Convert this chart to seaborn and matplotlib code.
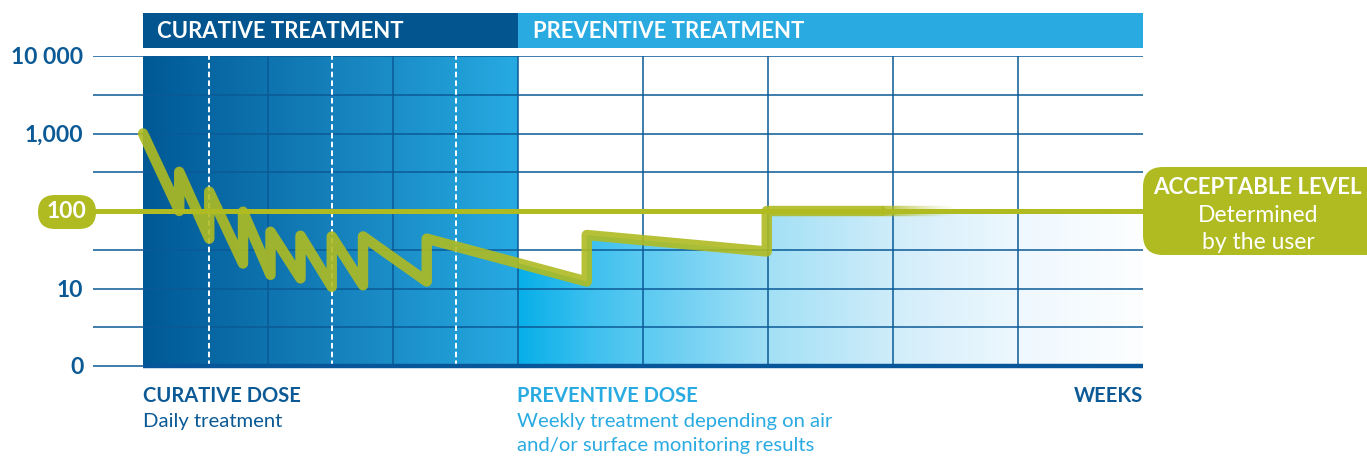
import numpy as np
import matplotlib
matplotlib.use("Agg")
import matplotlib.pyplot as plt
import matplotlib.transforms as mtransforms
from matplotlib.patches import FancyBboxPatch, PathPatch, Rectangle
from matplotlib.path import Path
from matplotlib.colors import LinearSegmentedColormap, to_rgba
from matplotlib.collections import LineCollection
import seaborn as sns

# ---------------- data ----------------
week_x = [0.0, 0.29, 0.29, 0.53, 0.53, 0.80, 0.80, 1.02, 1.02, 1.26, 1.26,
          1.51, 1.51, 1.76, 1.76, 2.27, 2.27, 3.55, 3.55, 4.99, 4.99, 5.9]
level_y = [1000, 100, 320, 44, 178, 21, 98, 15, 54, 13.5, 48,
           10.5, 47, 11, 47, 12.3, 44, 12.3, 49, 30, 100, 100]
fade_end_x = 6.5
acceptable_level = 100
ytick_values = [1, 10, 1000, 10000]
ytick_labels = ["0", "10", "1,000", "10 000"]
treatment_days = [0.53, 1.51, 2.5]
week_lines = [1, 2, 3, 4, 5, 6, 7]
curative_end = 3
n_weeks = 8
header_labels = ["CURATIVE TREATMENT", "PREVENTIVE TREATMENT"]

# ---------------- style ----------------
DARK = "#0b5a96"
BAND_DARK = "#03558f"
LIGHT = "#29abe2"
GREEN = "#afbb21"

sns.set_theme(style="white")
plt.rcParams["font.family"] = ["Lato", "DejaVu Sans"]
plt.rcParams["lines.scale_dashes"] = False

W, H = 1367, 458
fig = plt.figure(figsize=(W / 100, H / 100), dpi=100)
fig.patch.set_facecolor("white")
ax = fig.add_axes([93 / W, 1 - 366 / H, (1143 - 93) / W, (366 - 56) / H])
ax.set_yscale("log")
ax.set_xlim(-0.4, n_weeks)
ax.set_ylim(1, 10000)
ax.set_facecolor("none")
for s in ax.spines.values():
    s.set_visible(False)


def fx(px):
    return px / W


def fy(py):
    return 1 - py / H


# curative background gradient
cur_cmap = LinearSegmentedColormap.from_list("cur", ["#005995", "#1580bb", "#27aae2"])
grad = np.linspace(0, 1, 512)[None, :]
ax.imshow(grad, cmap=cur_cmap, extent=[0, curative_end, 1, 10000], aspect="auto",
          interpolation="bilinear", zorder=0)

# preventive area fill under the curve
lx = np.array(week_x, dtype=float)
ly = np.log10(np.array(level_y, dtype=float))
i = np.searchsorted(lx, curative_end)
y_at = 10 ** np.interp(curative_end, lx[i - 1:i + 1], ly[i - 1:i + 1])
verts = [(curative_end, 1), (curative_end, y_at)]
verts += [(x, y) for x, y in zip(week_x, level_y) if x > curative_end]
verts += [(n_weeks, acceptable_level), (n_weeks, 1), (curative_end, 1)]
clip = PathPatch(Path(verts), transform=ax.transData, facecolor="none", edgecolor="none")
ax.add_patch(clip)
prev_cmap = LinearSegmentedColormap.from_list(
    "prev", [(0, "#08afe9"), (0.12, "#3fc1ef"), (0.4, "#a2e0f6"),
             (0.62, "#d4eefa"), (0.8, "#eef8fe"), (1.0, "#fdfeff")])
im = ax.imshow(grad, cmap=prev_cmap, extent=[curative_end, n_weeks, 1, 10000],
               aspect="auto", interpolation="bilinear", zorder=0.5)
im.set_clip_path(clip)

# grid lines
half_decades = 10 ** (np.arange(1, 9) / 2)
ax.hlines(half_decades, -0.4, n_weeks, colors=DARK, lw=1.1, zorder=2)
ax.vlines(week_lines, 1, 10000, colors=DARK, lw=1.1, zorder=2)
ax.vlines(treatment_days, 1, 10000, colors="white", lw=1.4,
          linestyles=[(0, (4, 2.3))], zorder=2.5)
ax.hlines(1, -0.4, 0, colors=DARK, lw=1.1, zorder=2, clip_on=False)
ax.hlines(1, 0, n_weeks, colors="#07569a", lw=3.2, zorder=2.6, clip_on=False)

# treatment curve
sns.lineplot(x=week_x, y=level_y, sort=False, estimator=None, ax=ax, color=GREEN,
             lw=7.5, alpha=0.9, solid_joinstyle="round", solid_capstyle="round",
             zorder=3, legend=False)
# fading tail
nseg = 30
xs = np.linspace(week_x[-1], fade_end_x, nseg + 1)
segs = [[(xs[k], acceptable_level), (xs[k + 1], acceptable_level)] for k in range(nseg)]
base = np.array(to_rgba(GREEN))
cols = [np.r_[base[:3], 0.9 * (1 - k / nseg) ** 1.3] for k in range(nseg)]
ax.add_collection(LineCollection(segs, colors=cols, lw=7.5, capstyle="butt", zorder=3))

# acceptable level line
ax.axhline(acceptable_level, color=GREEN, lw=3.6, zorder=5, clip_on=False)

# y ticks
ax.set_yticks(ytick_values)
ax.set_yticklabels(ytick_labels)
ax.yaxis.set_minor_locator(matplotlib.ticker.NullLocator())
ax.tick_params(axis="y", length=0, pad=7, labelsize=16.5, labelcolor=DARK)
for t in ax.get_yticklabels():
    t.set_fontweight("bold")
ax.set_xticks([])
ax.set_xlabel("")
ax.set_ylabel("")

# "100" pill
inch = fig.dpi_scale_trans
pill = FancyBboxPatch((38 / 100, (H - 229) / 100), 58 / 100, 34 / 100,
                      boxstyle="round,pad=0,rounding_size=0.17", transform=inch,
                      facecolor=GREEN, edgecolor="none", zorder=6)
fig.add_artist(pill)
fig.text(fx(67), fy(212), "100", color="white", fontsize=16.5, fontweight="bold",
         ha="center", va="center", zorder=7)

# acceptable level badge
badge = FancyBboxPatch((1143 / 100, (H - 255) / 100), 260 / 100, 88 / 100,
                       boxstyle="round,pad=0,rounding_size=0.2", transform=inch,
                       facecolor=GREEN, edgecolor="none", zorder=6)
fig.add_artist(badge)
fig.text(fx(1257), fy(187), "ACCEPTABLE LEVEL", color="white", fontsize=16,
         fontweight="bold", ha="center", va="center", zorder=7)
fig.text(fx(1258), fy(215), "Determined", color="white", fontsize=16.5,
         ha="center", va="center", zorder=7)
fig.text(fx(1258), fy(243), "by the user", color="white", fontsize=16.5,
         ha="center", va="center", zorder=7)

# header bands
bt = mtransforms.blended_transform_factory(ax.transData, fig.transFigure)
band_y0, band_h = fy(48), (48 - 13) / H
fig.add_artist(Rectangle((0, band_y0), curative_end, band_h, transform=bt,
                         facecolor=BAND_DARK, edgecolor="none"))
fig.add_artist(Rectangle((curative_end, band_y0), n_weeks - curative_end, band_h,
                         transform=bt, facecolor=LIGHT, edgecolor="none"))
fig.text(fx(157), fy(31), header_labels[0], color="white", fontsize=15.9,
         fontweight="bold", ha="left", va="center")
fig.text(fx(533), fy(31), header_labels[1], color="white", fontsize=15.9,
         fontweight="bold", ha="left", va="center")

# bottom captions
fig.text(fx(143), fy(396), "CURATIVE DOSE", color=DARK, fontsize=14.5,
         fontweight="bold", ha="left", va="center")
fig.text(fx(143), fy(421), "Daily treatment", color=DARK, fontsize=14.6,
         ha="left", va="center")
fig.text(fx(517), fy(396), "PREVENTIVE DOSE", color=LIGHT, fontsize=14.5,
         fontweight="bold", ha="left", va="center")
fig.text(fx(517), fy(421), "Weekly treatment depending on air", color=LIGHT,
         fontsize=14.6, ha="left", va="center")
fig.text(fx(517), fy(446), "and/or surface monitoring results", color=LIGHT,
         fontsize=14.6, ha="left", va="center")
fig.text(fx(1143), fy(396), "WEEKS", color=DARK, fontsize=14.5, fontweight="bold",
         ha="right", va="center")

fig.savefig("out.png", dpi=100, facecolor="white")
